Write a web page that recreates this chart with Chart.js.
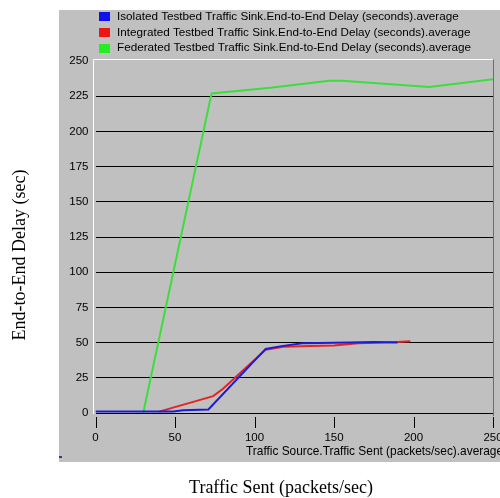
<!DOCTYPE html>
<html>
<head>
<meta charset="utf-8">
<script src="https://cdn.jsdelivr.net/npm/chart.js@4/dist/chart.umd.min.js"></script>
<style>
html,body{margin:0;padding:0;background:#fff;}
canvas{display:block;}
</style>
</head>
<body>
<canvas id="c" width="500" height="498"></canvas>
<script>
// ---- data ----
const seriesNames = [
  'Isolated Testbed Traffic Sink.End-to-End Delay (seconds).average',
  'Integrated Testbed Traffic Sink.End-to-End Delay (seconds).average',
  'Federated Testbed Traffic Sink.End-to-End Delay (seconds).average'
];
const isolatedX = [0, 49, 55, 71, 107, 117, 130, 160, 175, 190];
const isolatedY = [1, 1, 2, 2.5, 45.5, 47.5, 49.5, 50, 50.5, 50];
const integratedX = [40, 74, 80, 107, 118, 135, 150, 165, 190, 198];
const integratedY = [1, 12, 17, 45, 47, 47.5, 48, 49.5, 50.5, 51];
const federatedX = [30, 73, 110, 147, 155, 210, 250];
const federatedY = [0, 227, 231, 236, 236, 231.5, 237];
const xTicks = [0, 50, 100, 150, 200, 250];
const yTicks = [0, 25, 50, 75, 100, 125, 150, 175, 200, 225, 250];
const xAxisCaption = 'Traffic Source.Traffic Sent (packets/sec).average';
const xTitle = 'Traffic Sent (packets/sec)';
const yTitle = 'End-to-End Delay (sec)';

const colors = ['#1c1cd6', '#e42323', '#3ddd3d'];
const legendColors = ['#1010ee', '#ee1515', '#22ee22'];
const uiFont = '"Liberation Sans", Arial, sans-serif';

function pts(xs, ys){ return xs.map((x,i)=>({x:x, y:ys[i]})); }

const decor = {
  id: 'decor',
  beforeDraw(chart){
    const {ctx, chartArea:a} = chart;
    ctx.save();
    ctx.fillStyle = '#ffffff';
    ctx.fillRect(0,0,chart.width,chart.height);
    ctx.fillStyle = '#c0c0c0';
    ctx.fillRect(59, 10, chart.width-59, 452);
    ctx.fillStyle = '#3030d0';
    ctx.fillRect(59, 456, 3, 2);
    ctx.lineWidth = 1;
    ctx.strokeStyle = '#ffffff';
    ctx.beginPath();
    ctx.moveTo(a.left-2, a.bottom+1);
    ctx.lineTo(a.left-2, a.top-1.5);
    ctx.lineTo(a.right, a.top-1.5);
    ctx.stroke();
    ctx.strokeStyle = '#6e6e6e';
    ctx.beginPath();
    ctx.moveTo(a.right+0.5, a.top-1.5);
    ctx.lineTo(a.right+0.5, a.bottom+3);
    ctx.stroke();
    ctx.restore();
  },
  afterDraw(chart){
    const {ctx, chartArea:a} = chart;
    const xs = chart.scales.x;
    ctx.save();
    // x tick marks
    ctx.strokeStyle = '#000';
    ctx.lineWidth = 1;
    xTicks.forEach(v=>{
      const px = Math.round(xs.getPixelForValue(v))+0.5;
      ctx.beginPath();
      ctx.moveTo(px, a.bottom+4);
      ctx.lineTo(px, a.bottom+15);
      ctx.stroke();
    });
    // legend
    ctx.font = '11.7px ' + uiFont;
    ctx.textBaseline = 'middle';
    ctx.textAlign = 'left';
    seriesNames.forEach((n,i)=>{
      const cy = 16 + i*15.8;
      ctx.fillStyle = legendColors[i];
      ctx.fillRect(99, Math.round(cy-4), 11, 9);
      ctx.fillStyle = '#000';
      ctx.fillText(n, 117, cy+0.5);
    });
    // x caption inside panel
    ctx.font = '11.9px ' + uiFont;
    ctx.fillText(xAxisCaption, 246, 452);
    // outer titles
    ctx.font = '18px "Liberation Serif", "Times New Roman", serif';
    ctx.textAlign = 'center';
    ctx.fillText(xTitle, 281, 488);
    ctx.translate(20, 255);
    ctx.rotate(-Math.PI/2);
    ctx.fillText(yTitle, 0, 0);
    ctx.restore();
  }
};

new Chart(document.getElementById('c'), {
  type: 'scatter',
  data: {
    datasets: [
      {label: seriesNames[0], data: pts(isolatedX, isolatedY), borderColor: colors[0], backgroundColor: colors[0]},
      {label: seriesNames[1], data: pts(integratedX, integratedY), borderColor: colors[1], backgroundColor: colors[1]},
      {label: seriesNames[2], data: pts(federatedX, federatedY), borderColor: colors[2], backgroundColor: colors[2]}
    ].map(d=>Object.assign(d, {showLine:true, pointRadius:0, borderWidth:2, tension:0}))
  },
  options: {
    responsive: false,
    animation: false,
    layout: {padding: {left: 65.5, right: 7, top: 61, bottom: 0}},
    plugins: {legend: {display:false}, tooltip: {enabled:false}},
    scales: {
      x: {
        type: 'linear', min: 0, max: 250,
        afterBuildTicks: s => { s.ticks = xTicks.map(v=>({value:v})); },
        afterFit: s => { s.height = 85; s.paddingLeft = 0; s.paddingRight = 0; },
        border: {display:false},
        grid: {display:true, drawOnChartArea:false, drawTicks:true, tickLength:15, color:'rgba(0,0,0,0)'},
        ticks: {color:'#000', padding:3, maxRotation:0, autoSkip:false, font:{family:uiFont, size:11.5}}
      },
      y: {
        type: 'linear', min: 0, max: 250,
        afterBuildTicks: s => { s.ticks = yTicks.map(v=>({value:v})); },
        afterFit: s => { s.width = 30; },
        border: {display:false},
        grid: {drawTicks:false, lineWidth:1, color: c => c.tick && c.tick.value === 250 ? 'rgba(0,0,0,0)' : '#000'},
        ticks: {color:'#000', padding:7, autoSkip:false, font:{family:uiFont, size:11.5}}
      }
    }
  },
  plugins: [decor]
});
</script>
</body>
</html>
